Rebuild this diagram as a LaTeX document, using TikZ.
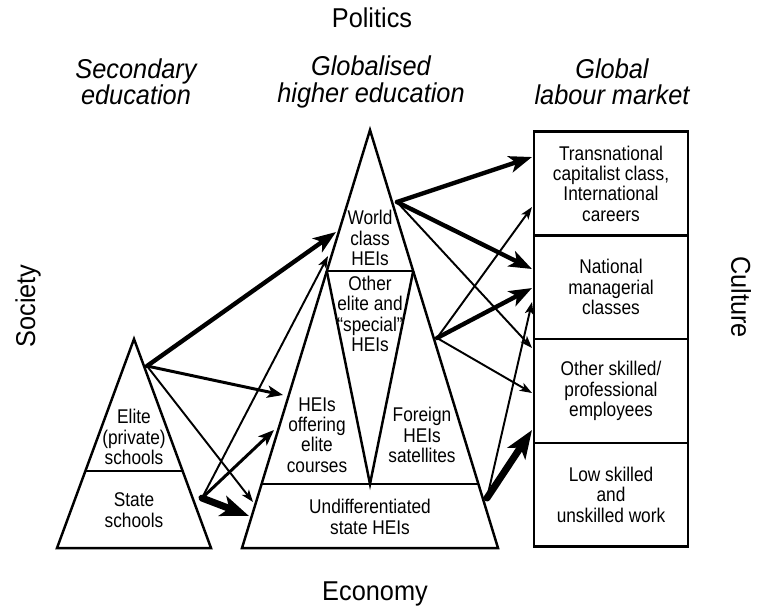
\documentclass[tikz,border=0pt]{standalone}
\usepackage{fontspec}
\setmainfont{Liberation Sans}[FakeStretch=0.87]
\newfontfamily\titlefont{Liberation Sans}[FakeStretch=0.93]
\usetikzlibrary{arrows.meta,positioning}

\begin{document}
\begin{tikzpicture}[x=0.02cm,y=-0.02cm,
    tri/.style={line width=1.4pt,line join=miter},
    label text/.style={align=center,inner sep=0pt,font=\fontsize{11.3}{11.6}\selectfont},
    jobbox/.style={draw,line width=1.4pt,outer sep=0pt,inner sep=0pt,align=center,
      minimum width=3.08cm,minimum height=2.075cm,font=\fontsize{11.3}{11.6}\selectfont},
    head text/.style={align=center,inner sep=0pt,font=\titlefont\fontsize{15.5}{15}\selectfont\itshape},
    side text/.style={inner sep=0pt,font=\titlefont\fontsize{15.5}{16}\selectfont},
    thin link/.style={-{Stealth[length=7pt,width=5pt,inset=1.8pt]},line width=1.1pt,line cap=round},
    mid link/.style={-{Stealth[length=9pt,width=7pt,inset=2.3pt]},line width=1.7pt,line cap=round},
    thick link/.style={-{Stealth[length=13pt,width=9.5pt,inset=3.3pt]},line width=2.5pt,line cap=round},
    heavy link/.style={-{Stealth[length=16pt,width=12pt,inset=4pt]},line width=4pt,line cap=round}]

  \useasboundingbox (0,0) rectangle (759,610);

  \node[side text] (politics) at (372,18) {Politics};
  \node[side text] (economy) at (375,594) {Economy};
  \node[side text,rotate=90] (society) at (28,306) {Society};
  \node[side text,rotate=-90] (culture) at (741,297) {Culture};

  \node[head text] (secondary) at (136,82) {Secondary\\education};
  \node[head text] (globalised) at (371,82) {Globalised\\higher education};
  \node[head text] (labour) at (612,82) {Global\\labour market};

  \draw[tri] (57,548) -- (134,339) -- (211,548) -- cycle;
  \draw[tri] (85.4,471) -- (182.6,471);
  \draw[tri] (242,548) -- (370,130) -- (498,548) -- cycle;
  \draw[tri] (326.8,271) -- (413.2,271);
  \draw[tri] (326.8,271) -- (370,484) -- (413.2,271);
  \draw[tri] (261.6,484) -- (478.4,484);

  \node[label text] (elite) at (134,437) {Elite\\(private)\\schools};
  \node[label text] (state) at (134,510) {State\\schools};
  \node[label text] (worldclass) at (370,238) {World\\class\\HEIs};
  \node[label text] (otherelite) at (370,314) {Other\\elite and\\“special”\\HEIs};
  \node[label text] (offering) at (317,435) {HEIs\\offering\\elite\\courses};
  \node[label text] (foreign) at (422,435) {Foreign\\HEIs\\satellites};
  \node[label text] (undiff) at (370,517) {Undifferentiated\\state HEIs};

  \node[jobbox] (tcc) at (611,183.5) {Transnational\\capitalist class,\\International\\careers};
  \node[jobbox,below=0pt of tcc] (national) {National\\managerial\\classes};
  \node[jobbox,below=0pt of national] (skilled) {Other skilled/\\professional\\employees};
  \node[jobbox,below=0pt of skilled] (lowskilled) {Low skilled\\and\\unskilled work};

  \coordinate (eliteout) at (147,366);
  \coordinate (stateout) at (202,498);
  \coordinate (worldout) at (397,202);
  \coordinate (otherout) at (437,338);
  \coordinate (undiffout) at (487,498);

  \coordinate (worldin) at (336,232);
  \coordinate (worldin2) at (328,256);
  \coordinate (offerin) at (283,395);
  \coordinate (offerin2) at (274,430);
  \coordinate (undiffin) at (253,502);
  \coordinate (undiffin2) at (249,516);
  \coordinate (tccin) at (532,157);
  \coordinate (tccin2) at (532,207);
  \coordinate (natin) at (532,269);
  \coordinate (natin2) at (532,288);
  \coordinate (natin3) at (532,302);
  \coordinate (skillin) at (532,348);
  \coordinate (skillin2) at (532,393);
  \coordinate (skillin3) at (532,430);

  \path (eliteout) edge[thick link] (worldin)
        (eliteout) edge[mid link] (offerin)
        (eliteout) edge[thin link] (undiffin)
        (stateout) edge[thin link] (worldin2)
        (stateout) edge[mid link] (offerin2)
        (stateout) edge[heavy link] (undiffin2)
        (worldout) edge[thick link] (tccin)
        (worldout) edge[thick link] (natin)
        (worldout) edge[thin link] (skillin)
        (otherout) edge[thin link] (tccin2)
        (otherout) edge[thick link] (natin2)
        (otherout) edge[thin link] (skillin2)
        (undiffout) edge[thin link] (natin3)
        (undiffout) edge[heavy link] (skillin3);
\end{tikzpicture}
\end{document}
